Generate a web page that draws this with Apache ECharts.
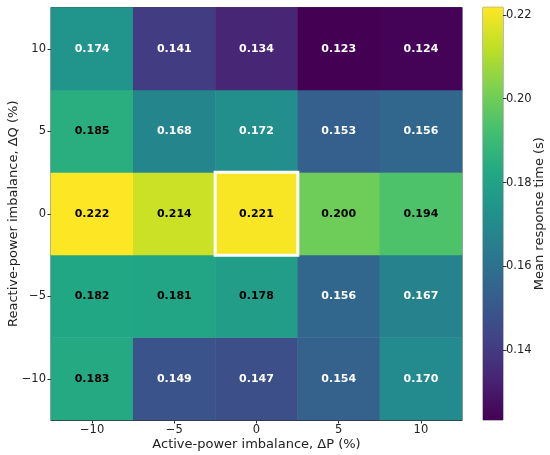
<!DOCTYPE html>
<html>
<head>
<meta charset="utf-8">
<script src="https://cdn.jsdelivr.net/npm/echarts@6/dist/echarts.min.js"></script>
<style>
  html, body { margin: 0; padding: 0; background: #fff; }
  #chart { width: 550px; height: 455px; }
</style>
</head>
<body>
<div id="chart"></div>
<script>
// ΔP across, ΔQ up
const dP = [-10, -5, 0, 5, 10];
const dQ = [-10, -5, 0, 5, 10];

// rows follow dQ (bottom to top), columns follow dP
const rowQm10 = [0.183, 0.149, 0.147, 0.154, 0.170];
const rowQm5  = [0.182, 0.181, 0.178, 0.156, 0.167];
const rowQ0   = [0.222, 0.214, 0.221, 0.200, 0.194];
const rowQ5   = [0.185, 0.168, 0.172, 0.153, 0.156];
const rowQ10  = [0.174, 0.141, 0.134, 0.123, 0.124];

const cbarTicks = [0.14, 0.16, 0.18, 0.20, 0.22];
const cbarMin = 0.1234;
const cbarMax = 0.2218;

// highlighted nominal point
const nominal = { p: 0, q: 0 };

const viridis = ['#440154', '#482475', '#414487', '#355f8d', '#2a788e',
    '#21918c', '#22a884', '#44bf70', '#7ad151', '#bddf26', '#fde725'];

const FONT = 'DejaVu Sans';
const minus = v => String(v).replace('-', '\u2212');

const rows = [rowQm10, rowQm5, rowQ0, rowQ5, rowQ10];
const cells = [];
rows.forEach((row, yi) => {
    row.forEach((v, xi) => cells.push({
        value: [xi, yi, v],
        label: { color: v > 0.175 ? '#000' : '#fff' },
    }));
});

const chart = echarts.init(document.getElementById('chart'), null, { renderer: 'canvas' });

const axisCommon = {
    type: 'category',
    axisLine: { show: true, lineStyle: { color: '#333', width: 1 } },
    axisTick: { show: true, alignWithLabel: true, length: 3.5, lineStyle: { color: '#333' } },
    axisLabel: { color: '#222', fontFamily: FONT, fontSize: 11.5, formatter: minus },
    splitArea: { show: false },
    nameMoveOverlap: false,
    nameTextStyle: { color: '#222', fontFamily: FONT, fontSize: 13 },
};

chart.setOption({
    backgroundColor: '#fff',
    animation: false,
    grid: [
        { left: 51, top: 7.5, width: 411, height: 412.5, outerBoundsMode: 'none', containLabel: false,
          show: true, borderColor: '#444', borderWidth: 1 },
        { left: 483, top: 7.3, width: 20, height: 412.7, outerBoundsMode: 'none', containLabel: false,
          show: true, borderColor: '#777', borderWidth: 1 },
    ],
    xAxis: [
        Object.assign({}, axisCommon, {
            gridIndex: 0,
            data: dP.map(String),
            axisLabel: Object.assign({}, axisCommon.axisLabel, { margin: 4 }),
            name: 'Active-power imbalance, \u0394P (%)',
            nameLocation: 'middle',
            nameGap: 18,
        }),
        { type: 'category', gridIndex: 1, data: ['cb'], show: false },
    ],
    yAxis: [
        Object.assign({}, axisCommon, {
            gridIndex: 0,
            data: dQ.map(String),
            axisLabel: Object.assign({}, axisCommon.axisLabel, { margin: 5 }),
            name: 'Reactive-power imbalance, \u0394Q (%)',
            nameLocation: 'middle',
            nameRotate: 90,
            nameGap: 31,
        }),
        {
            type: 'value',
            gridIndex: 1,
            position: 'right',
            min: cbarMin,
            max: cbarMax,
            axisLine: { show: false },
            splitLine: { show: false },
            axisTick: { show: true, length: 3.5, lineStyle: { color: '#333' }, customValues: cbarTicks },
            axisLabel: {
                color: '#222', fontFamily: FONT, fontSize: 11.5, margin: 3,
                customValues: cbarTicks,
                formatter: v => v.toFixed(2),
            },
            name: 'Mean response time (s)',
            nameLocation: 'middle',
            nameRotate: 90,
            nameGap: 30,
            nameMoveOverlap: false,
            nameTextStyle: { color: '#222', fontFamily: FONT, fontSize: 13 },
        },
    ],
    visualMap: {
        type: 'continuous',
        show: false,
        min: cbarMin,
        max: cbarMax,
        seriesIndex: 0,
        inRange: { color: viridis },
    },
    series: [
        {
            name: 'response',
            type: 'heatmap',
            xAxisIndex: 0,
            yAxisIndex: 0,
            data: cells,
            label: {
                show: true,
                fontFamily: FONT,
                fontSize: 11,
                fontWeight: 'bold',
                formatter: p => p.value[2].toFixed(3),
            },
            emphasis: { disabled: true },
        },
        {
            name: 'nominal',
            type: 'heatmap',
            xAxisIndex: 0,
            yAxisIndex: 0,
            data: [[dP.indexOf(nominal.p), dQ.indexOf(nominal.q), 0]],
            itemStyle: { color: 'rgba(0,0,0,0)', borderColor: '#fff', borderWidth: 3 },
            label: { show: false },
            emphasis: { disabled: true },
            z: 5,
        },
        {
            name: 'colorbar',
            type: 'custom',
            xAxisIndex: 1,
            yAxisIndex: 1,
            data: [[0, cbarMax]],
            renderItem: (params, api) => {
                const top = api.coord([0, cbarMax]);
                const bottom = api.coord([0, cbarMin]);
                return {
                    type: 'rect',
                    shape: { x: params.coordSys.x, y: top[1], width: params.coordSys.width, height: bottom[1] - top[1] },
                    style: {
                        fill: new echarts.graphic.LinearGradient(0, 1, 0, 0,
                            viridis.map((c, i) => ({ offset: i / (viridis.length - 1), color: c }))),
                    },
                };
            },
            silent: true,
        },
    ],
});
</script>
</body>
</html>
